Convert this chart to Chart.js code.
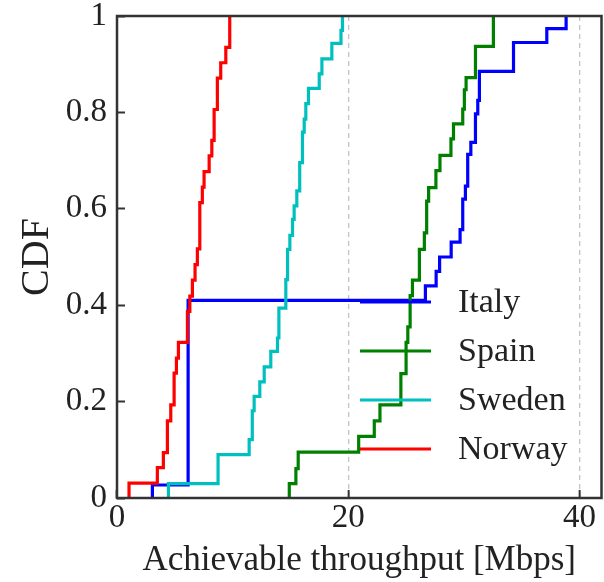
<!DOCTYPE html>
<html>
<head>
<meta charset="utf-8">
<script src="https://cdn.jsdelivr.net/npm/chart.js@4.4.1/dist/chart.umd.min.js"></script>
<style>
  body { margin: 0; background: #fff; }
  canvas { display: block; }
</style>
</head>
<body>
<canvas id="myChart" width="604" height="582"></canvas>
<script>
// Datos (CDF escalonada por país)
const paises = ["Italy", "Spain", "Sweden", "Norway"];
const colores = ["#0000ff", "#008000", "#00bfbf", "#ff0000"];

const italyX = [3.06, 3.06, 6.15, 26.67, 27.6, 27.9, 28.9, 29.67, 29.9, 30.13, 30.33, 30.6, 31.0, 31.2, 31.34, 34.29, 37.17, 38.84];
const italyY = [0, 0.027, 0.41, 0.44, 0.47, 0.5, 0.531, 0.557, 0.62, 0.647, 0.713, 0.738, 0.797, 0.825, 0.885, 0.945, 0.974, 1.0];

const spainX = [14.9, 14.9, 15.47, 15.67, 20.9, 22.25, 22.74, 24.55, 25.0, 25.15, 25.35, 25.55, 26.15, 26.58, 26.78, 26.95, 27.58, 27.93, 28.88, 29.1, 29.9, 30.04, 30.19, 31.0, 32.55];
const spainY = [0, 0.03, 0.061, 0.095, 0.128, 0.16, 0.193, 0.258, 0.323, 0.355, 0.42, 0.452, 0.516, 0.55, 0.616, 0.644, 0.679, 0.711, 0.745, 0.776, 0.807, 0.847, 0.872, 0.937, 1.0];

const swedenX = [4.45, 4.45, 8.74, 11.43, 11.7, 11.86, 12.35, 12.73, 13.3, 13.88, 14.0, 14.6, 14.75, 14.95, 15.18, 15.32, 15.55, 15.8, 16.04, 16.19, 16.33, 16.56, 17.49, 17.72, 18.58, 19.37, 19.5];
const swedenY = [0, 0.03, 0.09, 0.121, 0.181, 0.211, 0.241, 0.272, 0.304, 0.332, 0.394, 0.453, 0.516, 0.545, 0.578, 0.606, 0.637, 0.696, 0.759, 0.786, 0.818, 0.85, 0.88, 0.911, 0.943, 0.97, 1.0];

const norwayX = [1.04, 1.04, 3.49, 4.01, 4.36, 4.65, 4.94, 5.14, 5.31, 6.09, 6.3, 6.52, 6.75, 6.95, 7.16, 7.38, 7.53, 7.97, 8.2, 8.4, 8.68, 8.97, 9.41, 9.75];
const norwayY = [0, 0.031, 0.063, 0.094, 0.16, 0.193, 0.259, 0.29, 0.323, 0.387, 0.419, 0.452, 0.484, 0.517, 0.613, 0.645, 0.677, 0.71, 0.742, 0.806, 0.871, 0.903, 0.935, 1.0];

const xTicks = [0, 20, 40];
const yTicks = [0, 0.2, 0.4, 0.6, 0.8, 1];
const yTickLabels = ["0", "0.2", "0.4", "0.6", "0.8", "1"];

const serie = [
  [italyX, italyY],
  [spainX, spainY],
  [swedenX, swedenY],
  [norwayX, norwayY],
];

// Crear datasets
function crearDatasets() {
  return serie.map(([xs, ys], i) => ({
    label: paises[i],
    data: xs.map((x, j) => ({ x: x, y: ys[j] })),
    borderColor: colores[i],
    borderWidth: 3.2,
    pointRadius: 0,
    stepped: "before",
    fill: false,
    order: serie.length - i,
  }));
}

// Marco del gráfico
const marco = {
  id: "marco",
  afterDatasetsDraw(chart) {
    const { ctx, chartArea } = chart;
    ctx.save();
    ctx.strokeStyle = "#333";
    ctx.lineWidth = 2.5;
    ctx.strokeRect(chartArea.left, chartArea.top, chartArea.right - chartArea.left, chartArea.bottom - chartArea.top);
    ctx.restore();
  },
};

// Leyenda dentro del área
const leyenda = {
  id: "leyenda",
  afterDraw(chart) {
    const { ctx, chartArea } = chart;
    ctx.save();
    ctx.font = "34px 'Liberation Serif'";
    ctx.textBaseline = "middle";
    ctx.fillStyle = "#222";
    chart.data.datasets.forEach((ds, i) => {
      const y = chartArea.top + 286 + i * 49;
      ctx.strokeStyle = ds.borderColor;
      ctx.lineWidth = 3.2;
      ctx.beginPath();
      ctx.moveTo(chartArea.left + 243, y);
      ctx.lineTo(chartArea.left + 314, y);
      ctx.stroke();
      ctx.fillText(ds.label, chartArea.left + 341, y + 1);
    });
    ctx.restore();
  },
};

const config = {
  type: "line",
  data: { datasets: crearDatasets() },
  options: {
    responsive: false,
    animation: false,
    devicePixelRatio: 1,
    layout: { padding: { top: 16, right: 2.5, left: 0, bottom: 0 } },
    plugins: { legend: { display: false }, tooltip: { enabled: false } },
    scales: {
      x: {
        type: "linear",
        min: 0,
        max: 41.9,
        afterFit: (s) => { s.height = 84; s.paddingLeft = 0; s.paddingRight = 0; },
        afterBuildTicks: (s) => { s.ticks = xTicks.map((v) => ({ value: v })); },
        border: { display: false, dash: [5, 4] },
        grid: {
          color: (c) => (c.tick && c.tick.value === 0 ? "rgba(0,0,0,0)" : "#c4c4c4"),
          lineWidth: 1.3,
          tickLength: -8,
          tickColor: "#333",
          tickWidth: 2,
          tickBorderDash: [],
        },
        ticks: {
          color: "#222",
          padding: 9,
          maxRotation: 0,
          font: { family: "'Liberation Serif'", size: 33 },
        },
        title: {
          display: true,
          text: "Achievable throughput [Mbps]",
          color: "#222",
          padding: { top: 0, bottom: 0 },
          font: { family: "'Liberation Serif'", size: 35 },
        },
      },
      y: {
        type: "linear",
        min: 0,
        max: 1,
        afterFit: (s) => { s.width = 117; s.paddingTop = 0; s.paddingBottom = 0; },
        afterBuildTicks: (s) => { s.ticks = yTicks.map((v) => ({ value: v })); },
        border: { display: false },
        grid: {
          drawOnChartArea: false,
          tickLength: -8,
          tickColor: "#333",
          tickWidth: 2,
        },
        ticks: {
          color: "#222",
          padding: 18,
          callback: (v, i) => yTickLabels[i],
          font: { family: "'Liberation Serif'", size: 33 },
        },
        title: {
          display: true,
          text: "CDF",
          color: "#222",
          padding: { top: 13, bottom: 0 },
          font: { family: "'Liberation Serif'", size: 40 },
        },
      },
    },
  },
  plugins: [marco, leyenda],
};

const ctx = document.getElementById("myChart").getContext("2d");
new Chart(ctx, config);
</script>
</body>
</html>
